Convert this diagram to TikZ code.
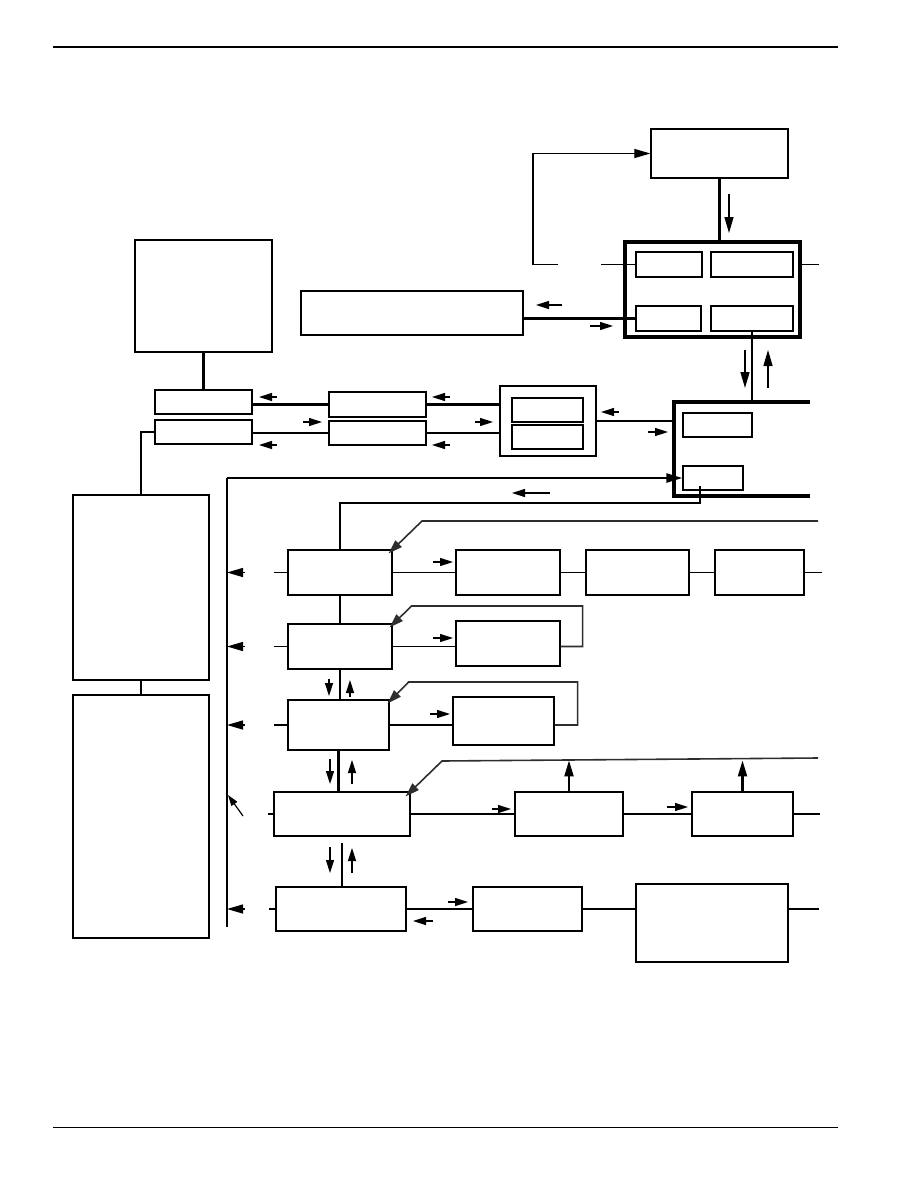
\documentclass[tikz,border=0pt]{standalone}
\usepackage{tikz}
\usetikzlibrary{arrows.meta,calc}
\definecolor{loopgray}{HTML}{2E2E2E}
\tikzset{
  >={Triangle[length=13pt,width=8pt]},
  bigtip/.style={-{Triangle[length=16pt,width=9pt]}},
  box/.style={draw=black, line width=1.2pt, inner sep=0pt},
  sz/.style 2 args={minimum width=#1, minimum height=#2},
  wire/.style={draw=black, line width=1.1pt},
  heavy/.style={draw=black, line width=2.3pt},
  frame/.style={draw=black, line width=3.2pt, inner sep=0pt},
  loopline/.style={draw=loopgray, line width=1.6pt, -{Triangle[length=14pt,width=9pt]}},
  flag/.style={draw=black, line width=1.4pt, ->}
}

\begin{document}
\begin{tikzpicture}[x=1pt,y=-1pt]
  \path[use as bounding box] (0,0) rectangle (918,1188);

  % page rules
  \draw[line width=2.2pt] (53,47) -- (838,47);
  \draw[line width=0.9pt] (53,1127) -- (838,1127);

  % upper part
  \node[box, sz={137}{49}] (pump) at (719.5,153.5) {};
  \node[box, sz={222}{44}] (display) at (412,313) {};
  \node[box, sz={137}{112}] (sensor) at (203.5,296) {};
  \node[frame, sz={175}{95}] (ctrl) at (712.5,289.5) {};
  \node[box, sz={66}{25}] (ca) at (669,264.5) {};
  \node[box, sz={82}{25}] (cb) at (752,264.5) {};
  \node[box, sz={65}{25}] (cc) at (668.5,318.5) {};
  \node[box, sz={82}{25}] (cd) at (752,318.5) {};

  \node[box, sz={97}{24}] (ifa) at (203.5,402) {};
  \node[box, sz={97}{24}] (ifb) at (203.5,432) {};
  \node[box, sz={97}{25}] (bufa) at (377.5,404.5) {};
  \node[box, sz={97}{24}] (bufb) at (377.5,433) {};
  \node[box, sz={96}{70}] (link) at (548,421) {};
  \node[box, sz={71}{24}] (linka) at (547.5,410) {};
  \node[box, sz={71}{24}] (linkb) at (547.5,437) {};

  % open frame on the right
  \coordinate (fnw) at (674,402);
  \coordinate (fsw) at (674,496);
  \draw[frame] (810,402) -- (fnw) -- (fsw) -- (810,496);
  \node[box, sz={69}{24}] (mcu) at (717.5,425) {};
  \node[box, sz={60}{24}] (port) at (713,478) {};

  % left column
  \node[box, sz={136}{185}] (supply) at (141,587.5) {};
  \node[box, sz={136}{243}] (mains) at (141,816.5) {};

  % rows
  \node[box, sz={104}{45}] (ra) at (340,572.5) {};
  \node[box, sz={104}{45}] (rb) at (508,572.5) {};
  \node[box, sz={103}{45}] (rc) at (637.5,572.5) {};
  \node[box, sz={89}{45}] (rd) at (759.5,572.5) {};
  \node[box, sz={104}{45}] (sa) at (340,646.5) {};
  \node[box, sz={104}{45}] (sb) at (508,643.5) {};
  \node[box, sz={101}{50}] (ta) at (338.5,725) {};
  \node[box, sz={101}{48}] (tb) at (503.5,721) {};
  \node[box, sz={136}{44}] (ua) at (342,814) {};
  \node[box, sz={108}{44}] (ub) at (569,814) {};
  \node[box, sz={101}{44}] (uc) at (742.5,814) {};
  \node[box, sz={130}{44}] (va) at (341,909) {};
  \node[box, sz={109}{44}] (vb) at (527.5,909) {};
  \node[box, sz={152}{78}] (vc) at (712,923) {};

  \coordinate (bustop) at (227,478);
  \coordinate (busbot) at (227,927);
  \coordinate (bustip) at (245,0);
  \coordinate (fbend) at (558,264.5);
  \coordinate (portap) at (700,486);
  \coordinate (ratap) at (818,521);
  \coordinate (uatap) at (818,758);

  % pump and controller
  \draw[heavy] (pump.south) -- (pump.south |- ctrl.north);
  \draw[flag, bigtip] (729,194) -- (729,233);
  \draw[wire] (ca.west) -- ++(-34,0);
  \draw[wire, bigtip] (fbend) -- ++(-25,0) |- (pump.west);
  \draw[wire] (cb.east -| ctrl.east) -- ++(17,0);
  \draw[heavy] (cc.west) -- (cc.west -| display.east);
  \draw[flag] (562,305) -- (536,305);
  \draw[flag] (590,326) -- (613,326);
  \draw[wire] (cd.south) -- (cd.south |- fnw);
  \draw[flag, bigtip] (745,350) -- (745,388);
  \draw[flag, bigtip] (768,388) -- (768,350);

  % sensor chain
  \draw[heavy] (sensor.south) -- (ifa.north);
  \draw[heavy] (bufa.west -| ifa.east) -- (bufa.west);
  \draw[heavy] (bufa.east) -- (bufa.east -| link.west);
  \draw[wire] (bufb.west -| ifb.east) -- (bufb.west);
  \draw[wire] (bufb.east) -- (bufb.east -| link.west);
  \draw[flag] (277,397) -- (259,397);
  \draw[flag] (303,422) -- (322,422);
  \draw[flag] (277,445) -- (259,445);
  \draw[flag] (450,397) -- (432,397);
  \draw[flag] (475,422) -- (493,422);
  \draw[flag] (450,445) -- (432,445);
  \draw[heavy] (link.east) -- (link.east -| fnw);
  \draw[flag] (619,412) -- (601,412);
  \draw[flag] (648,432) -- (668,432);

  % supply
  \draw[heavy] (supply.north) |- (ifb.west);
  \draw[heavy] (supply.south) -- (mains.north);

  % bus
  \draw[wire] (busbot) -- (bustop);
  \draw[heavy, bigtip] (bustop) -- (bustop -| port.west);
  \draw[wire] (portap) -- ++(0,17) -| (ra.north);
  \draw[flag] (550,493) -- (512,493);
  \foreach \r in {ra,sa,ta,va}
    \draw[flag, -{Triangle[length=16pt,width=9pt]}] (\r.west -| bustip) -- (\r.west -| bustop);

  % row 1
  \draw[wire] (ra.west) -- ++(-13,0);
  \draw[wire] (ra.east) -- (rb.west);
  \draw[wire] (rb.east) -- (rc.west);
  \draw[wire] (rc.east) -- (rd.west);
  \draw[wire] (rd.east) -- ++(17,0);
  \draw[flag] (433,562) -- (453,562);
  \draw[loopline] (ratap) -- (422,521) -- ($(ra.north east)+(-4,4)$);
  \draw[wire] (ra.south) -- (sa.north);

  % row 2
  \draw[wire] (sa.west) -- ++(-13,0);
  \draw[wire] (sa.east) -- (sa.east -| sb.west);
  \draw[flag] (433,638) -- (453,638);
  \draw[loopline] (sb.east |- sa.east) -- ++(22,0) -- ++(0,-40.5) -- ++(-171,0)
    -- ($(sa.north east)+(-3,4)$);
  \draw[heavy] (sa.south) -- (sa.south |- ta.north);
  \draw[flag] (329,679) -- (329,696);
  \draw[flag] (350,697) -- (350,680);

  % row 3
  \draw[heavy] (ta.west) -- ++(-13,0);
  \draw[heavy] (ta.east) -- (ta.east -| tb.west);
  \draw[flag] (430,714) -- (450,714);
  \draw[loopline] (tb.east |- ta.east) -- ++(23,0) -- ++(0,-43) -- ++(-169,0)
    -- ($(ta.north east)+(-2,4)$);
  \draw[heavy] (ta.south) -- (ta.south |- ua.north);
  \draw[flag] (330,759) -- (330,784);
  \draw[flag] (352,784) -- (352,760);

  % row 4
  \draw[wire] (ua.west) -- ++(-5,0);
  \draw[flag, line width=1.2pt, -{Triangle[length=11pt,width=7pt]}] (243,816) -- (228,795);
  \draw[wire] (ua.east) -- (ub.west);
  \draw[flag] (492,809) -- (511,809);
  \draw[heavy] (ub.east) -- (uc.west);
  \draw[flag] (667,807) -- (688,807);
  \draw[heavy] (uc.east) -- ++(26,0);
  \draw[loopline] (uatap) -- (442,761) -- ($(ua.north east)+(-5,5)$);
  \draw[flag, line width=2.2pt, bigtip] (ub.north) -- ++(0,-31);
  \draw[flag, line width=2.2pt, bigtip] (uc.north) -- ++(0,-31);
  \draw[wire] ($(ua.south)+(0,6)$) -- (ua.south |- va.north);
  \draw[flag] (330,847) -- (330,873);
  \draw[flag] (352,873) -- (352,848);

  % row 5
  \draw[heavy] (va.west) -- ++(-6,0);
  \draw[heavy] (va.east) -- (vb.west);
  \draw[flag] (448,902) -- (468,902);
  \draw[flag] (433,921) -- (413,921);
  \draw[heavy] (vb.east) -- (vb.east -| vc.west);
  \draw[heavy] (vc.east |- vb.east) -- ++(30,0);
\end{tikzpicture}
\end{document}
